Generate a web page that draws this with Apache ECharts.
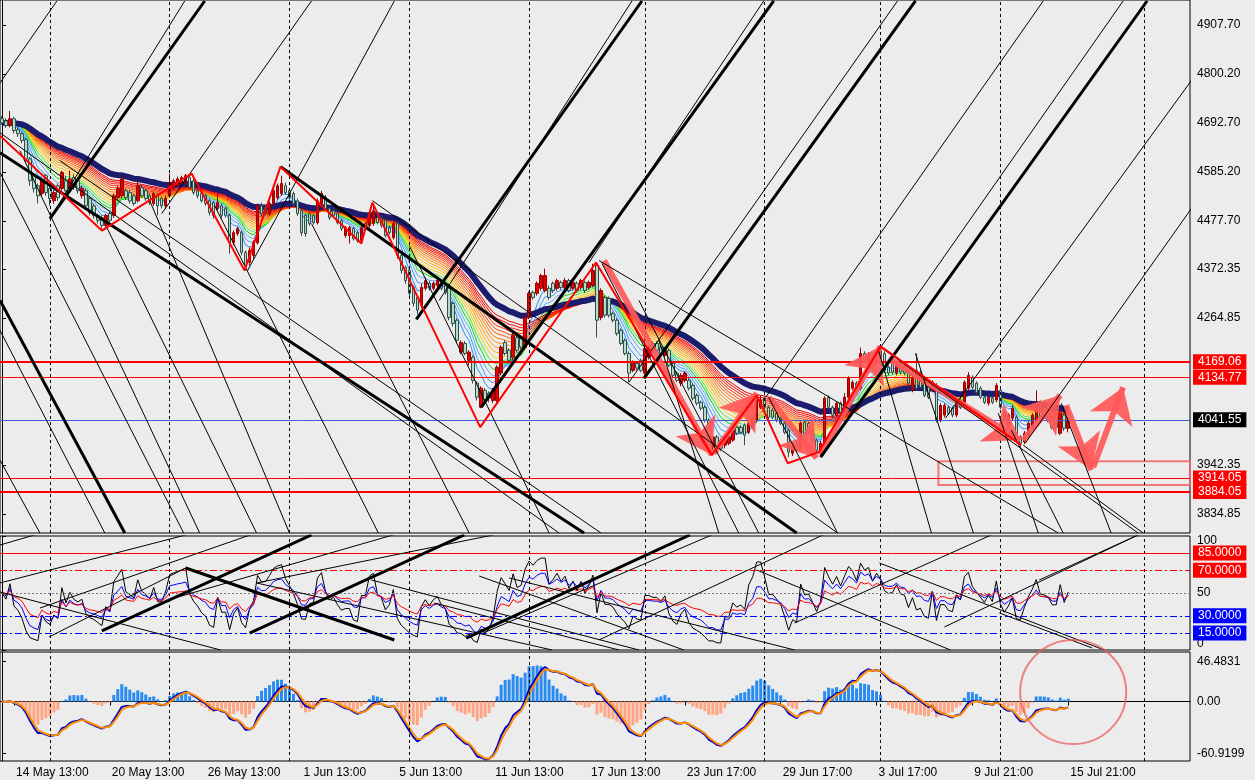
<!DOCTYPE html>
<html>
<head>
<meta charset="utf-8">
<title>H4 chart</title>
<script src="https://cdn.jsdelivr.net/npm/echarts@6.0.0/dist/echarts.min.js"></script>
<style>
  html, body { margin: 0; padding: 0; background: #ececec; }
  #chart { width: 1255px; height: 780px; }
</style>
</head>
<body>
<div id="chart"></div>
<script>
// ---- values (H4 bars, one slot per bar) ----
const slots = 298;

const opens = [
  4702,4697,4687,4702,4678,4669,4656,4614,4577,4555,
  4538,4577,4549,4522,4555,4549,4566,4549,4573,4566,
  4533,4544,4527,4511,4490,4485,4468,4494,4490,4529,
  4533,4544,4540,4533,4522,4551,4544,4533,4516,4533,
  4527,4511,4533,4551,4555,4560,4562,4573,4566,4544,
  4538,4533,4522,4518,4505,4511,4505,4490,4430,4450,
  4452,4409,4387,4402,4430,4511,4507,4494,4516,4529,
  4538,4555,4544,4538,4522,4500,4490,4494,4490,4474,
  4516,4529,4505,4500,4494,4479,4446,4446,4461,4452,
  4435,4472,4468,4472,4485,4483,4479,4463,4441,4472,
  4402,4376,4369,4332,4310,4292,4330,4341,4330,4336,
  4343,4336,4330,4297,4260,4190,4209,4172,4179,4122,
  4069,4106,4100,4084,4084,4144,4211,4194,4179,4222,
  4222,4200,4266,4321,4319,4330,4325,4330,4341,4330,
  4343,4332,4347,4330,4341,4332,4343,4332,4336,4380,
  4266,4310,4308,4275,4260,4238,4216,4187,4150,4165,
  4172,4144,4179,4209,4209,4201,4183,4194,4165,4144,
  4122,4128,4128,4117,4095,4080,4069,4041,3982,4004,
  3997,3986,3990,3997,4025,4025,4030,4014,4025,4041,
  4069,4089,4069,4062,4056,4045,4034,4019,3968,3990,
  3975,4036,4034,4019,3997,3968,3990,4091,4069,4052,
  4078,4058,4091,4111,4122,4111,4187,4168,4179,4165,
  4201,4187,4157,4165,4144,4165,4161,4150,4106,4150,
  4146,4133,4113,4106,4117,4041,4052,4069,4067,4052,
  4084,4080,4111,4135,4122,4111,4091,4078,4089,4085,
  4106,4058,4030,4045,4047,4004,3993,4004,4025,4041,
  4078,4069,4056,4047,4052,4012,4052,4023
];
const closes = [
  4693,4687,4702,4676,4669,4654,4614,4566,4549,4533,
  4566,4540,4527,4540,4529,4584,4544,4570,4551,4544,
  4549,4511,4496,4490,4479,4468,4490,4479,4533,4549,
  4570,4529,4522,4516,4555,4533,4527,4518,4538,4511,
  4511,4527,4562,4566,4570,4573,4577,4551,4540,4533,
  4522,4516,4496,4490,4518,4490,4490,4430,4452,4461,
  4409,4380,4413,4430,4511,4494,4496,4516,4544,4555,
  4560,4540,4529,4516,4494,4452,4450,4472,4474,4522,
  4538,4505,4485,4490,4474,4461,4463,4463,4439,4435,
  4463,4463,4494,4500,4474,4468,4446,4452,4472,4402,
  4369,4347,4319,4297,4282,4332,4347,4330,4341,4347,
  4330,4321,4266,4253,4216,4211,4187,4190,4128,4091,
  4111,4084,4089,4106,4157,4201,4187,4172,4227,4194,
  4201,4266,4319,4310,4341,4358,4358,4310,4325,4347,
  4332,4347,4325,4343,4325,4347,4325,4343,4369,4260,
  4325,4271,4271,4260,4231,4209,4187,4144,4168,4155,
  4150,4198,4198,4194,4194,4187,4194,4161,4139,4128,
  4139,4144,4111,4089,4078,4067,4041,4004,4004,3982,
  3979,4004,4004,4019,4012,4014,4008,4034,4047,4084,
  4084,4069,4047,4047,4041,4034,4014,3971,3982,3975,
  4034,4012,4014,3997,3975,3990,4089,4069,4052,4078,
  4058,4091,4133,4124,4106,4187,4172,4185,4157,4187,
  4176,4150,4144,4146,4161,4146,4144,4122,4135,4111,
  4113,4095,4091,4124,4041,4073,4073,4056,4052,4080,
  4069,4124,4139,4113,4102,4091,4080,4091,4080,4117,
  4069,4041,4052,4067,3997,3990,4012,4034,4052,4078,
  4047,4045,4041,4025,4025,4056,4023,4041.55
];
const lows = [
  4688,4682,4683,4670,4662,4648,4608,4555,4540,4516,
  4530,4533,4511,4515,4522,4544,4538,4544,4546,4538,
  4527,4507,4490,4483,4472,4461,4459,4472,4485,4524,
  4527,4524,4516,4511,4518,4529,4522,4513,4511,4490,
  4505,4505,4529,4546,4551,4555,4557,4546,4535,4527,
  4518,4511,4490,4483,4500,4483,4485,4406,4424,4445,
  4402,4369,4380,4395,4426,4487,4490,4489,4511,4524,
  4533,4535,4524,4511,4489,4445,4443,4467,4470,4470,
  4511,4500,4480,4485,4470,4456,4441,4428,4435,4430,
  4430,4459,4463,4467,4470,4463,4441,4448,4437,4395,
  4362,4340,4312,4290,4273,4286,4325,4325,4325,4332,
  4325,4316,4260,4246,4209,4185,4183,4161,4121,4084,
  4067,4078,4080,4078,4080,4139,4183,4165,4172,4190,
  4196,4196,4262,4305,4314,4325,4321,4305,4320,4325,
  4327,4327,4321,4325,4321,4327,4320,4327,4332,4222,
  4260,4266,4266,4255,4226,4205,4183,4124,4146,4150,
  4146,4139,4174,4190,4190,4183,4179,4157,4135,4124,
  4115,4124,4106,4084,4073,4062,4036,3997,3975,3977,
  3973,3979,3986,3993,4008,4010,3986,4010,4021,4036,
  4065,4065,4043,4043,4036,4030,4010,3960,3962,3971,
  3971,4008,4010,3993,3971,3960,3986,4065,4045,4047,
  4052,4054,4087,4106,4102,4106,4168,4150,4152,4161,
  4172,4146,4139,4141,4139,4141,4139,4117,4102,4106,
  4109,4091,4087,4102,4036,4036,4047,4052,4047,4047,
  4065,4076,4106,4109,4098,4087,4076,4073,4076,4080,
  4065,4036,4025,4041,3990,3982,3988,4000,4021,4036,
  4043,4041,4036,4021,4019,4008,4017,4014
];
const highs = [
  4708,4703,4719,4706,4684,4674,4660,4618,4583,4560,
  4572,4581,4553,4546,4560,4588,4577,4588,4580,4570,
  4555,4549,4531,4516,4494,4490,4494,4498,4538,4555,
  4577,4549,4546,4538,4566,4557,4549,4538,4542,4538,
  4531,4533,4581,4570,4575,4577,4581,4577,4570,4549,
  4542,4538,4527,4522,4538,4516,4509,4494,4457,4465,
  4457,4413,4420,4435,4516,4518,4511,4520,4549,4560,
  4577,4562,4549,4542,4527,4505,4494,4498,4494,4527,
  4544,4535,4509,4505,4498,4483,4467,4467,4465,4457,
  4467,4476,4498,4516,4490,4487,4483,4467,4476,4476,
  4406,4380,4373,4336,4314,4340,4353,4347,4345,4356,
  4347,4341,4334,4301,4264,4216,4214,4194,4183,4126,
  4115,4111,4104,4111,4161,4205,4216,4198,4233,4227,
  4227,4270,4323,4325,4345,4362,4373,4336,4345,4351,
  4347,4353,4351,4347,4345,4351,4347,4347,4384,4386,
  4330,4314,4312,4279,4264,4242,4220,4192,4172,4170,
  4176,4222,4203,4214,4214,4205,4198,4198,4170,4148,
  4144,4148,4133,4122,4100,4084,4073,4045,4008,4008,
  4001,4008,4010,4023,4030,4030,4034,4038,4051,4089,
  4095,4093,4073,4067,4060,4049,4038,4023,3986,3995,
  4038,4041,4038,4023,4001,3995,4093,4095,4073,4082,
  4082,4100,4137,4128,4126,4200,4192,4190,4183,4192,
  4203,4192,4161,4170,4165,4170,4165,4155,4139,4187,
  4150,4137,4117,4128,4122,4078,4078,4073,4071,4084,
  4089,4128,4146,4139,4126,4115,4095,4095,4093,4122,
  4111,4062,4056,4073,4052,4008,4017,4038,4056,4106,
  4084,4073,4060,4052,4056,4060,4056,4047
];

const tickBars = [3, 27, 51, 75, 99, 123, 147, 171, 195, 219, 243, 267];
const tickLabels = ['14 May 13:00', '20 May 13:00', '26 May 13:00', '1 Jun 13:00',
  '5 Jun 13:00', '11 Jun 13:00', '17 Jun 13:00', '23 Jun 17:00', '29 Jun 17:00',
  '3 Jul 17:00', '9 Jul 21:00', '15 Jul 21:00'];
const gridBars = [12, 42, 72, 102, 132, 161, 191, 220, 250, 286];
const priceTicks = [4907.70, 4800.20, 4692.70, 4585.20, 4477.70, 4372.35, 4264.85, 3942.35, 3834.85];
const redLevels = [4169.06, 4134.77, 3914.05, 3884.05];
const heavyLevels = [4169.06, 3884.05];
const bidPrice = 4041.55;
const oscTicks = [100, 50, 0];
const oscLevels = [85, 70, 50, 30, 15];
const macdTicks = [46.4831, 0, -60.9199];

// drawn objects, anchored as [bar, price, bar, price]
const thickLines = [
  [12, 4483.0, 50.75, 4960.25], [103.75, 4261.8, 160.25, 4960.25], [160.75, 4132.6, 228.75, 4960.25],
  [120, 4069.1, 193.25, 4960.25], [205, 3959.7, 286.75, 4960.25],
  [-0.5, 4627.4, 145.75, 3793.2], [69.75, 4596.8, 199, 3793.2], [-0.5, 4303.4, 30.75, 3793.2]
];
const thinLines = [
  [-0.5, 4780.7, 13.75, 4960.25], [12, 4483.0, 45.75, 4960.25], [40, 4493.9, 77.5, 4960.25],
  [61.5, 4369.1, 98.25, 4960.25], [109.5, 4303.4, 157.75, 4960.25], [147, 4386.6, 190.75, 4960.25],
  [157, 4123.8, 224.25, 4960.25], [191.25, 4091.0, 260.75, 4960.25], [236.25, 4045.1, 312, 4955.9],
  [256.25, 3990.3, 312, 4680.0], [219.5, 4193.9, 280.75, 4960.25],
  [-0.5, 4671.2, 139.5, 3793.2], [14.5, 4609.9, 150, 3793.2], [92.75, 4522.4, 209.25, 3793.2],
  [149.5, 4391.0, 264.5, 3793.2], [219.75, 4202.7, 284.5, 3793.2], [255.75, 3985.9, 285.75, 3793.2],
  [-0.5, 4583.7, 45.5, 3793.2], [4.5, 4631.8, 49.5, 3793.2], [26.25, 4463.2, 63.75, 3793.2],
  [77.5, 4472.0, 117, 3793.2], [53.25, 4511.4, 94.25, 3793.2], [102, 4423.8, 137, 3793.2],
  [150.25, 4384.4, 184.5, 3793.2], [164.5, 4215.8, 179.5, 3793.2], [192, 4091.0, 209.25, 3793.2],
  [219.5, 4193.9, 232.75, 3793.2], [228.75, 4187.3, 243.25, 3793.2], [249.5, 4056.0, 259.5, 3793.2],
  [252.75, 4018.8, 265.75, 3793.2], [265.25, 4077.9, 277.75, 3793.2], [-0.5, 4237.7, 25.75, 3793.2],
  [-0.5, 3953.1, 9.5, 3793.2], [37, 4522.4, 72, 3793.2], [159.5, 4303.4, 189.5, 3793.2]
];
const zigzag = [[-0.5, 4664.7], [25, 4456.7], [47.5, 4581.5], [60.75, 4369.1], [69.75, 4596.8],
  [90, 4428.2], [92.75, 4518.0], [119.75, 4025.4], [148.75, 4386.6], [177.75, 3964.1], [189, 4095.4],
  [196.75, 3946.4], [204.5, 3970.6], [220, 4202.7], [255.25, 3985.9]];
const arrows = [
  [150.75, 4391.0, 177.75, 3964.1], [178.25, 3968.4, 189, 4099.8], [192, 4091.0, 204, 3957.5],
  [205, 3964.1, 220, 4202.7], [222, 4176.4, 255, 3996.9], [255.75, 3996.9, 265, 4095.4],
  [266.5, 4073.5, 272.75, 3931.2], [273.25, 3937.8, 280.75, 4112.9]
];
const zoneBox = [234.5, 3950.9, 299, 3898.3];
// oscillator pane objects, [bar, value, bar, value]
const oscThick = [[25, 16.7, 77.5, 100.9], [62, 14.9, 115.75, 100.9], [116.25, 10.5, 172.25, 100.9], [46, 71.9, 98.25, 8.8]];
const oscThin = [
  [-0.5, 92.1, 9, 101.8], [-0.5, 58.8, 46, 100.9], [9.5, 36.8, 65.75, 105.3], [11.75, 11.4, 46, 71.9],
  [41.5, 43.9, 102.25, 105.3], [63.75, 58.8, 123, 100.9], [120.5, 14.9, 177.75, 100.9],
  [149.5, 8.8, 208.25, 105.3], [198.5, 23.7, 247.75, 100.9], [236, 20.2, 284.5, 100.9],
  [259.75, 61.4, 284.5, 100.9],
  [-0.5, 50.9, 54.75, 0], [63.75, 58.8, 137.75, 0], [92.5, 61.4, 159.5, 0], [127, 63.2, 198.5, 0],
  [119.5, 64.9, 170.75, 0], [189, 70.2, 237.5, 0], [219.75, 76.3, 276, 0], [249.75, 32.5, 273, 1.75],
  [108.25, 41.2, 154.5, 0]
];
const macdCircle = [268.25, 11];

// ---- indicators from the closes ----
function ema(src, n) {
  const k = 2 / (n + 1); let prev = src[0];
  return src.map(v => { prev += k * (v - prev); return +prev.toFixed(2); });
}
function rsi(src, n) {
  let up = 5, dn = 5; const out = [50];
  for (let i = 1; i < src.length; i++) {
    const d = src[i] - src[i - 1];
    up = (up * (n - 1) + Math.max(d, 0)) / n;
    dn = (dn * (n - 1) + Math.max(-d, 0)) / n;
    out.push(+(100 * up / (up + dn)).toFixed(2));
  }
  return out;
}
const ribbonPeriods = [5, 7, 9, 11, 13, 15, 17, 19, 21, 23, 25, 27, 29, 31, 33, 35];
const ribbonColors = ['#1e90ff', '#3d9dff', '#5eaefc', '#00dd00', '#3cec3c', '#ffd000', '#ffbb00',
  '#ffa500', '#ff9200', '#ff7c00', '#ff6200', '#ff4a00', '#ff3000', '#ff1800', '#ff0000', '#e00000'];
const ema8 = ema(closes, 8), ema17 = ema(closes, 17);
const dif = ema8.map((v, i) => +(v - ema17[i]).toFixed(2));
const difSmooth = ema(dif, 2);
const dea = ema(dif, 9);
const hist = dif.map((v, i) => +(1.4 * (v - dea[i])).toFixed(2));

const FONT = "'Liberation Sans', Arial, sans-serif";
const cats = Array.from({ length: slots }, (_, i) => String(i));
const labelAt = {};
tickBars.forEach((b, k) => { labelAt[b] = tickLabels[k]; });
const isTick = (i) => labelAt[i] !== undefined;

function segs(list, xi, yi, width, color, z) {
  return list.map(s => ({
    type: 'line', xAxisIndex: xi, yAxisIndex: yi, data: [[s[0], s[1]], [s[2], s[3]]],
    symbol: 'none', silent: true, clip: true, z, lineStyle: { width, color }
  }));
}
function vgrid(xi, yi) {
  return {
    type: 'line', xAxisIndex: xi, yAxisIndex: yi, data: [], symbol: 'none', silent: true, z: 1,
    markLine: {
      silent: true, symbol: 'none', animation: false, label: { show: false },
      lineStyle: { color: '#000', width: 1, type: [3, 3] },
      data: gridBars.map(b => ({ xAxis: b }))
    }
  };
}
const boxLabel = (bg, digits) => ({
  show: true, position: 'end', distance: 3, color: '#fff', backgroundColor: bg,
  padding: [2, 5, 1, 5], fontSize: 12, fontFamily: FONT,
  formatter: p => p.value.toFixed(digits)
});

const series = [vgrid(3, 0), vgrid(4, 1), vgrid(5, 2)];
ribbonPeriods.forEach((p, k) => series.push({
  type: 'line', xAxisIndex: 0, yAxisIndex: 0, data: ema(closes, p), symbol: 'none', z: 2, silent: true,
  lineStyle: { width: 1, color: ribbonColors[k] }
}));
series.push({
  type: 'line', xAxisIndex: 0, yAxisIndex: 0, data: ema(closes, 42), symbol: 'none', z: 3, silent: true,
  lineStyle: { width: 6, color: '#1c1c6e' }
});
series.push({
  type: 'candlestick', xAxisIndex: 0, yAxisIndex: 0, barWidth: 3, z: 4, silent: true,
  data: opens.map((o, i) => [o, closes[i], lows[i], highs[i]]),
  itemStyle: { color: '#e00000', color0: '#b6dcc2', borderColor: '#9a0000', borderColor0: '#2f4f4f', borderWidth: 1 }
});
series.push(...segs(thinLines, 3, 0, 1, '#000', 5));
series.push(...segs(thickLines, 3, 0, 3, '#000', 5));
series.push({
  type: 'line', xAxisIndex: 3, yAxisIndex: 0, data: zigzag, symbol: 'none', z: 6, silent: true, clip: true,
  lineStyle: { width: 2, color: '#ff0000' },
  markLine: {
    silent: true, symbol: 'none', animation: false,
    data: redLevels.map(v => ({
      yAxis: v, lineStyle: { color: '#ff0000', width: heavyLevels.includes(v) ? 2 : 1, type: 'solid' },
      label: boxLabel('#ff0000', 2)
    })).concat([{
      yAxis: bidPrice, lineStyle: { color: '#3b5fd6', width: 1, type: 'solid' }, label: boxLabel('#000', 2)
    }])
  },
  markArea: {
    silent: true,
    itemStyle: { color: 'rgba(0,0,0,0)', borderColor: 'rgba(240,100,100,0.85)', borderWidth: 2 },
    data: [[{ coord: [zoneBox[0], zoneBox[1]] }, { coord: [zoneBox[2], zoneBox[3]] }]]
  }
});
series.push({
  type: 'line', xAxisIndex: 3, yAxisIndex: 0, data: [], symbol: 'none', z: 7, silent: true,
  markLine: {
    silent: true, animation: false, symbol: ['none', 'arrow'], symbolSize: 34, label: { show: false },
    lineStyle: { color: 'rgba(255,88,88,0.92)', width: 6, type: 'solid' },
    data: arrows.map(a => [{ coord: [a[0], a[1]] }, { coord: [a[2], a[3]] }])
  }
});

// oscillator pane
series.push(...segs(oscThin, 4, 1, 1, '#000', 5));
series.push(...segs(oscThick, 4, 1, 3, '#000', 5));
[[6, '#000000'], [12, '#0000ff'], [24, '#ff0000']].forEach(([n, c]) => series.push({
  type: 'line', xAxisIndex: 1, yAxisIndex: 1, data: rsi(closes, n), symbol: 'none', z: 4, silent: true,
  lineStyle: { width: 1, color: c }
}));
series.push({
  type: 'line', xAxisIndex: 4, yAxisIndex: 1, data: [], symbol: 'none', z: 3, silent: true,
  markLine: {
    silent: true, symbol: 'none', animation: false,
    data: [
      { yAxis: oscLevels[0], lineStyle: { color: '#ff0000', width: 1, type: 'solid' }, label: boxLabel('#ff0000', 4) },
      { yAxis: oscLevels[1], lineStyle: { color: '#ff0000', width: 1, type: [7, 3, 2, 3] }, label: boxLabel('#ff0000', 4) },
      { yAxis: oscLevels[2], lineStyle: { color: '#7a7a7a', width: 1, type: [2, 2] }, label: { show: false } },
      { yAxis: oscLevels[3], lineStyle: { color: '#0000ff', width: 1, type: [7, 3, 2, 3] }, label: boxLabel('#0000ff', 4) },
      { yAxis: oscLevels[4], lineStyle: { color: '#0000ff', width: 1, type: [7, 3, 2, 3] }, label: boxLabel('#0000ff', 4) }
    ]
  }
});

// MACD pane
series.push({
  type: 'bar', xAxisIndex: 2, yAxisIndex: 2, data: hist, barWidth: 3, z: 2, silent: true,
  itemStyle: { color: p => (p.value >= 0 ? '#2a8cf0' : '#ffa584') }
});
series.push({
  type: 'line', xAxisIndex: 2, yAxisIndex: 2, data: dif, symbol: 'none', z: 3, silent: true,
  lineStyle: { width: 2, color: '#0000cd' }
});
series.push({
  type: 'line', xAxisIndex: 2, yAxisIndex: 2, data: difSmooth, symbol: 'none', z: 3, silent: true,
  lineStyle: { width: 2, color: '#ff8c00' }
});
series.push({
  type: 'scatter', xAxisIndex: 5, yAxisIndex: 2, data: [macdCircle], symbol: 'circle', symbolSize: [106, 104],
  clip: false, silent: true, z: 8,
  itemStyle: { color: 'rgba(0,0,0,0)', borderColor: 'rgba(235,90,90,0.9)', borderWidth: 2 }
});

const grids = [
  { left: -1, right: 65, top: -1, height: 534 },
  { left: -1, right: 65, top: 536, height: 114 },
  { left: -1, right: 65, top: 652, height: 109 }
].map(g => Object.assign(g, { show: true, borderColor: '#000', borderWidth: 1, backgroundColor: 'transparent' }));

const catAxis = (gi, withLabels) => ({
  type: 'category', gridIndex: gi, data: cats, boundaryGap: true,
  axisLine: { show: withLabels, lineStyle: { color: '#000' } },
  axisTick: { show: withLabels, interval: isTick, alignWithLabel: true, length: 4, lineStyle: { color: '#000' } },
  axisLabel: {
    show: withLabels, interval: isTick, formatter: (v, i) => labelAt[i] || '', align: 'left',
    margin: 6, color: '#000', fontSize: 12, fontFamily: FONT, padding: [0, 0, 0, 2]
  },
  splitLine: { show: false }
});
const valX = gi => ({ type: 'value', gridIndex: gi, min: -0.5, max: slots - 0.5, show: false });
const yBase = (gi, min, max, ticks, fmt, extra) => Object.assign({
  type: 'value', gridIndex: gi, position: 'right', min, max,
  axisLine: { show: true, lineStyle: { color: '#000' } },
  axisTick: { show: true, length: 4, customValues: ticks, lineStyle: { color: '#000' } },
  axisLabel: { customValues: ticks, formatter: fmt, color: '#000', fontSize: 12, fontFamily: FONT, margin: 7 },
  splitLine: { show: false }
}, extra || {});

const oscLabel = {
  customValues: oscTicks, color: '#000', fontSize: 12, fontFamily: FONT, margin: 7,
  formatter: v => (v === 100 ? '{t|100}' : v === 0 ? '{b|0}' : String(v)),
  rich: {
    t: { padding: [10, 0, 0, 0], fontSize: 12, fontFamily: FONT, color: '#000' },
    b: { padding: [0, 0, 12, 0], fontSize: 12, fontFamily: FONT, color: '#000' }
  }
};

const chart = echarts.init(document.getElementById('chart'));
chart.setOption({
  animation: false,
  backgroundColor: '#ececec',
  grid: grids,
  xAxis: [catAxis(0, false), catAxis(1, false), catAxis(2, true), valX(0), valX(1), valX(2)],
  yAxis: [
    yBase(0, 3793.25, 4962.44, priceTicks, v => v.toFixed(2)),
    yBase(1, 0, 100, oscTicks, v => String(v), { axisLabel: oscLabel }),
    yBase(2, -69.44, 57.8, macdTicks, v => (v === 0 ? '0.00' : String(v)))
  ],
  series
});
</script>
</body>
</html>
